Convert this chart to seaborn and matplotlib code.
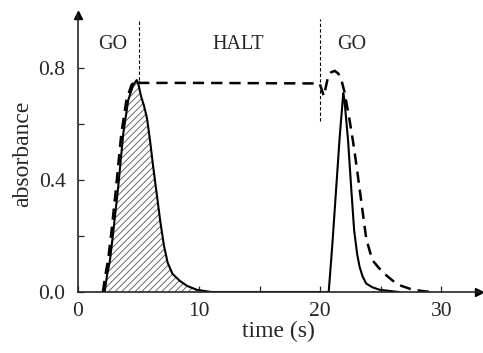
import numpy as np
import pandas as pd
import matplotlib
matplotlib.use("Agg")
import matplotlib.pyplot as plt
import seaborn as sns

# solid trace (pulse response)
t_solid = [2.2, 2.4, 2.64, 2.9, 3.32, 3.74, 4.15, 4.56, 4.85, 5.0, 5.2, 5.45, 5.7, 5.95,
           6.2, 6.5, 6.8, 7.1, 7.4, 7.8, 8.4, 9.0, 9.8, 11.0, 20.7, 21.0, 21.3, 21.6,
           21.9, 22.0, 22.3, 22.55, 22.8, 23.05, 23.25, 23.5, 23.8, 24.3, 24.9, 26.5]
a_solid = [0.0, 0.06, 0.114, 0.21, 0.376, 0.567, 0.686, 0.74, 0.757, 0.74, 0.70, 0.665,
           0.62, 0.54, 0.45, 0.35, 0.25, 0.165, 0.105, 0.065, 0.04, 0.022, 0.008, 0.0,
           0.0, 0.17, 0.36, 0.55, 0.71, 0.686, 0.54, 0.376, 0.22, 0.135, 0.09, 0.055,
           0.03, 0.017, 0.008, 0.0]

# dashed trace (halted flow)
t_dash = [2.05, 2.3, 2.5, 2.75, 3.15, 3.58, 4.0, 4.42, 4.85, 5.1, 10.0, 15.0, 19.95,
          20.3, 20.65, 20.9, 21.2, 21.5, 21.75, 22.0, 22.4, 22.7, 23.0, 23.4, 23.8,
          24.3, 24.8, 25.3, 26.0, 26.7, 27.5, 28.5, 29.2]
a_dash = [0.0, 0.07, 0.12, 0.21, 0.376, 0.567, 0.686, 0.74, 0.757, 0.747, 0.747, 0.746,
          0.745, 0.70, 0.77, 0.785, 0.79, 0.78, 0.757, 0.715, 0.62, 0.54, 0.45, 0.32,
          0.19, 0.114, 0.088, 0.065, 0.04, 0.022, 0.01, 0.003, 0.0]

phase_labels = ["GO", "HALT", "GO"]
phase_x = [2.9, 13.2, 22.6]
switch_t = [5.0, 20.0]
switch_top = [0.757, 0.61]

sns.set_style("ticks")
plt.rcParams["font.family"] = ["Liberation Serif", "DejaVu Serif"]
plt.rcParams["hatch.linewidth"] = 0.6

fig = plt.figure(figsize=(4.83, 3.53), dpi=100)
ax = fig.add_axes([0.1615, 0.1728, 0.83, 0.785])

solid = pd.DataFrame({"t": t_solid, "a": a_solid})
dash = pd.DataFrame({"t": t_dash, "a": a_dash})

# hatched area under first peak
first = solid[solid["t"] <= 11]
ax.fill_between(first["t"], first["a"], 0, facecolor="white", edgecolor="#555555",
                hatch="/////", linewidth=0)

sns.lineplot(data=solid, x="t", y="a", ax=ax, color="black", lw=1.5, sort=False)
sns.lineplot(data=dash, x="t", y="a", ax=ax, color="black", lw=1.8, sort=False,
             dashes=False, linestyle=(0, (4.5, 2.8)))

ymax = 0.99
for t, top in zip(switch_t, switch_top):
    ax.plot([t, t], [top, 0.975], color="black", lw=0.8, linestyle=(0, (3, 2)))

for lab, x in zip(phase_labels, phase_x):
    ax.text(x, 0.885, lab, fontsize=14.5, ha="center", va="center")

ax.set_xlim(0, 33.1)
ax.set_ylim(0, ymax)
ax.set_xticks([0, 5, 10, 15, 20, 25, 30])
ax.set_xticklabels(["0", "", "10", "", "20", "", "30"])
ax.set_yticks([0, 0.2, 0.4, 0.6, 0.8])
ax.set_yticklabels(["0.0", "", "0.4", "", "0.8"])
ax.tick_params(direction="in", length=4, width=0.9, labelsize=15.5)
ax.tick_params(axis="y", pad=9)
ax.tick_params(axis="x", pad=7)
ax.set_xlabel("time (s)", fontsize=17, labelpad=0)
ax.set_ylabel("absorbance", fontsize=17, labelpad=4)

sns.despine(ax=ax)
for s in ["left", "bottom"]:
    ax.spines[s].set_linewidth(1.2)
ax.plot(1, 0, ">k", ms=6, transform=ax.transAxes, clip_on=False)
ax.plot(0, 1, "^k", ms=6, transform=ax.transAxes, clip_on=False)

fig.savefig("out.png", dpi=100)
